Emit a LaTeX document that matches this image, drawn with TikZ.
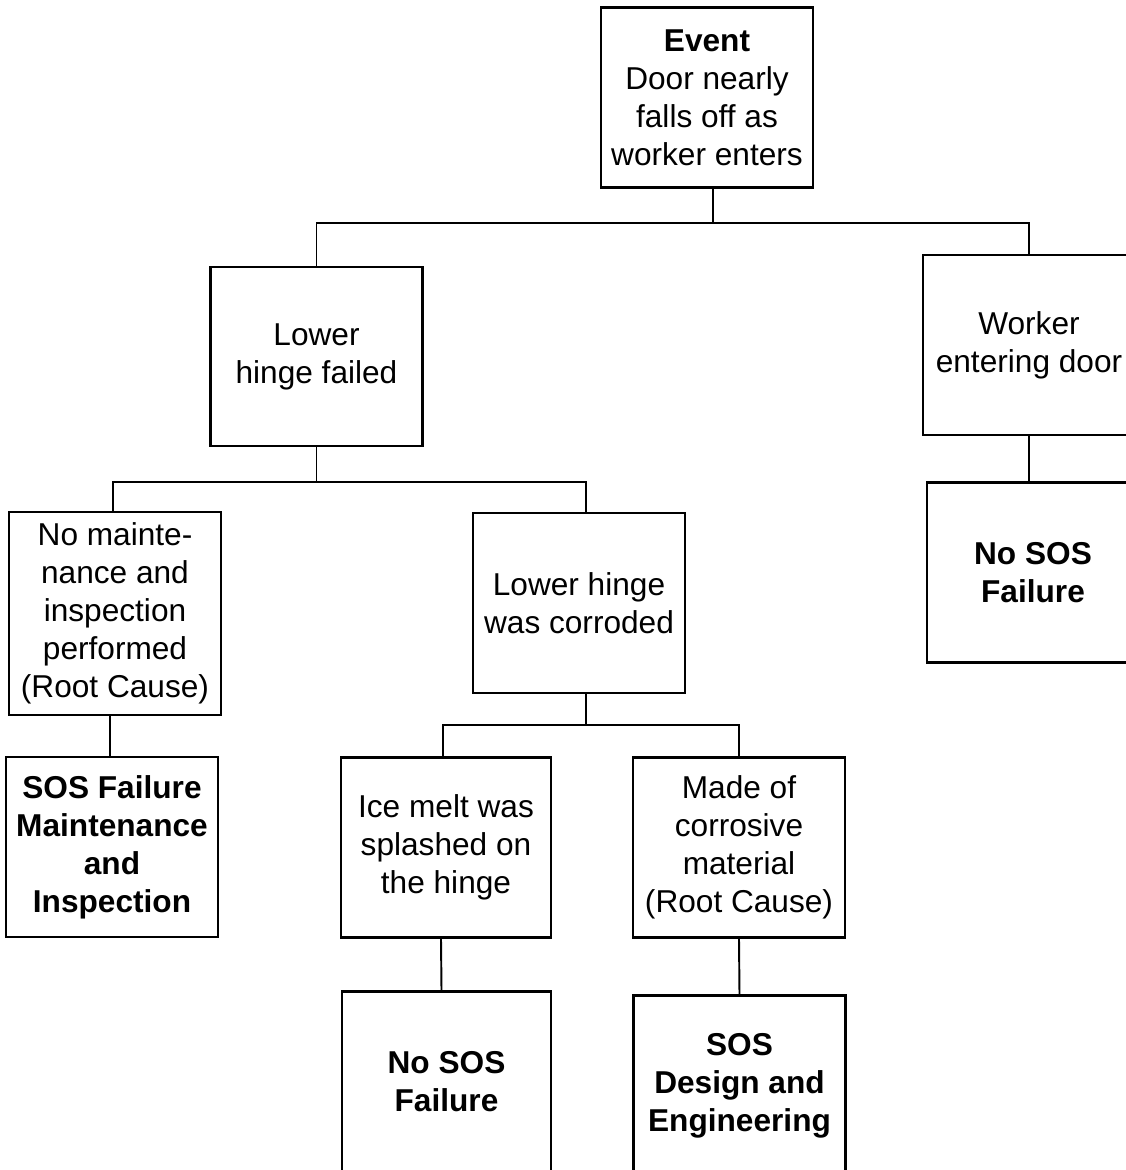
\documentclass[tikz,border=0pt]{standalone}
\usepackage{fontspec}
\setmainfont{Liberation Sans}
\usepackage{tikz}
\usetikzlibrary{calc}

\begin{document}
\begin{tikzpicture}[x=0.02cm,y=-0.02cm,
  box/.style={draw, line width=1.6pt, minimum width=4.24cm, minimum height=3.6cm,
    align=center, inner sep=2pt, font=\fontsize{18}{21.6}\selectfont},
  wire/.style={line width=1.1pt}]
\useasboundingbox (0,0) rectangle (1126,1170);
\clip (0,0) rectangle (1126,1170);
% top event
\node[box] (event) at (707,97.5) {\textbf{Event}\\Door nearly\\falls off as\\worker enters};
% second level
\node[box, minimum height=3.58cm] (hinge) at (316.5,356.5) {Lower\\hinge failed};
\node[box] (worker) at (1029,345) {Worker\\entering door};
\node[box] (nososA) at (1033,572.5) {\textbf{No SOS}\\\textbf{Failure}};
% third level
\node[box, minimum height=4.06cm] (nomaint) at (115,613.5) {No mainte-\\nance and\\inspection\\performed\\(Root Cause)};
\node[box] (sosmaint) at (112,847) {\textbf{SOS Failure}\\\textbf{Maintenance}\\\textbf{and}\\\textbf{Inspection}};
\node[box] (corroded) at (579,603) {Lower hinge\\was corroded};
% fourth level
\node[box, minimum width=4.2cm] (icemelt) at (446,847.5) {Ice melt was\\splashed on\\the hinge};
\node[box] (material) at (739,847.5) {Made of\\corrosive\\material\\(Root Cause)};
\node[box, minimum width=4.18cm] (nososB) at (446.5,1081.5) {\textbf{No SOS}\\\textbf{Failure}};
\node[box] (sosdesign) at (739.5,1085.5) {\textbf{SOS}\\\textbf{Design and}\\\textbf{Engineering}};
% connectors
\draw[wire] ($(event.south)+(6,0)$) -- ++(0,34) coordinate (busA);
\draw[wire] (busA) -| (hinge.north);
\draw[wire] (busA) -| (worker.north);
\draw[wire] (worker.south) -- (worker.south |- nososA.north);
\draw[wire] (hinge.south) -- ++(0,35) coordinate (busB);
\draw[wire] (busB) -| ($(nomaint.north)+(-2,0)$);
\draw[wire] (busB) -| ($(corroded.north)+(7,0)$);
\draw[wire] ($(nomaint.south)+(-5,0)$) -- ($(sosmaint.north)+(-2,0)$);
\draw[wire] ($(corroded.south)+(7,0)$) -- ++(0,31) coordinate (busC);
\draw[wire] (busC) -| ($(icemelt.north)+(-3,0)$);
\draw[wire] (busC) -| (material.north);
\draw[wire] ($(icemelt.south)+(-5,0)$) -- ($(nososB.north)+(-5,0)$);
\draw[wire] (material.south) -- (sosdesign.north);
\end{tikzpicture}
\end{document}
